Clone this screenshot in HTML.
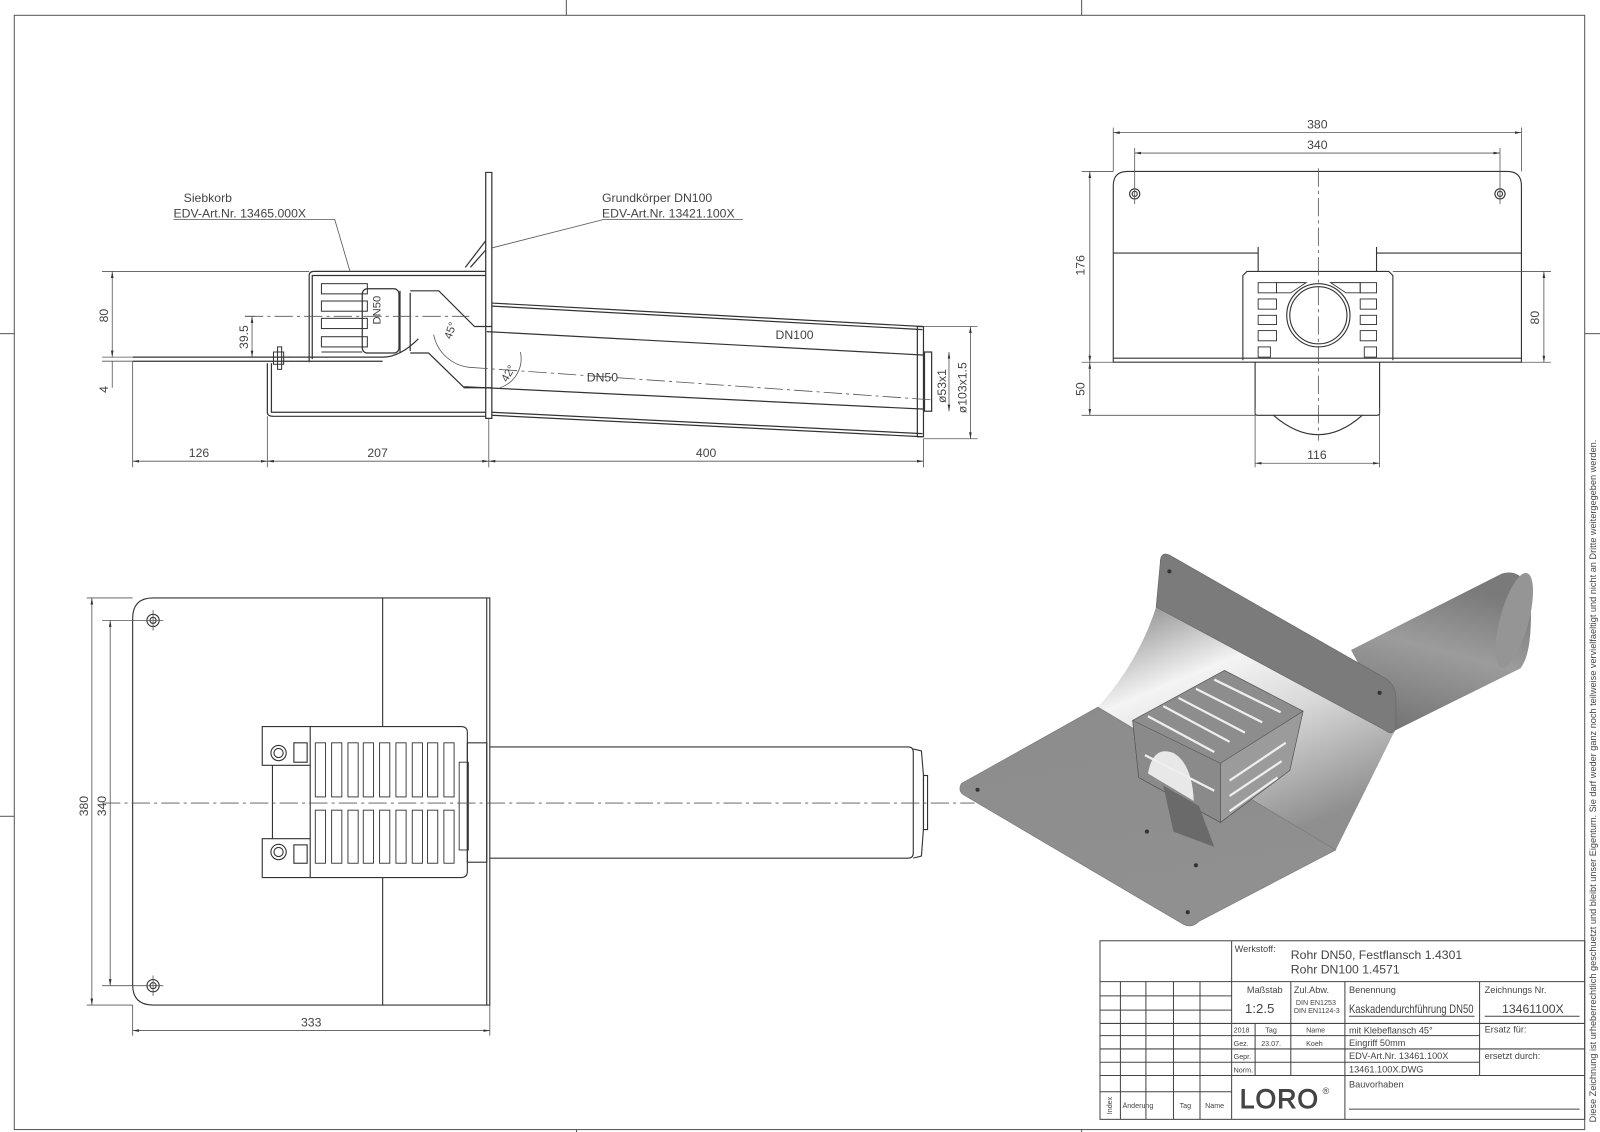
<!DOCTYPE html>
<html><head><meta charset="utf-8"><style>
html,body{margin:0;padding:0;background:#fff;}
svg{display:block;font-family:"Liberation Sans",sans-serif;}
text{fill:#444;}
</style></head><body>
<svg width="1600" height="1132" viewBox="0 0 1568 1109.4" preserveAspectRatio="none" xmlns="http://www.w3.org/2000/svg">
<defs>
<marker id="a" viewBox="0 0 10 10" refX="10" refY="5" markerWidth="8" markerHeight="8" orient="auto-start-reverse"><path d="M0,3 L10,5 L0,7z" fill="#333"/></marker>
<linearGradient id="pg" x1="0" y1="0" x2="0.3" y2="1"><stop offset="0" stop-color="#8c8c8c"/><stop offset="1" stop-color="#909090"/></linearGradient>
<linearGradient id="tg" x1="0" y1="1" x2="0.3" y2="0"><stop offset="0" stop-color="#6e6e6e"/><stop offset="0.6" stop-color="#9c9c9c"/><stop offset="1" stop-color="#7a7a7a"/></linearGradient>
<linearGradient id="bend" x1="0" y1="0" x2="0.5" y2="1"><stop offset="0" stop-color="#808080"/><stop offset="0.35" stop-color="#f4f4f4"/><stop offset="0.6" stop-color="#d8d8d8"/><stop offset="1" stop-color="#8f8f8f"/></linearGradient>
</defs>
<g fill="none" stroke="#555" stroke-width="1">
<rect x="14" y="15" width="1539" height="1092"/>
<line x1="555" y1="0" x2="555" y2="15"/><line x1="1060" y1="0" x2="1060" y2="15"/>
<line x1="565" y1="1107" x2="565" y2="1132"/><line x1="1060" y1="1107" x2="1060" y2="1132"/>
<line x1="0" y1="327" x2="14" y2="327"/><line x1="0" y1="800" x2="14" y2="800"/>
<line x1="1553" y1="327" x2="1568" y2="327"/>
</g>

<!-- SIDE VIEW -->
<g fill="none" stroke="#333" stroke-width="1.2">
<path d="M476,169 L476,410 L482,410 L482,169 Z"/>
<path d="M130,350 L290,350 M130,354 L290,354"/>
<path d="M303,355 L303,270 Q303,266 308,266 L476,266 M306,352 L306,270 L476,270"/>
<path d="M262,356 L262,404 Q262,408 268,408 L476,408 M266,356 L266,404 L476,404"/>
<path d="M290,350 L375,350 Q392,350 410,332 M290,354 L375,354"/>
<path d="M461,262 L476,245 M456,262 L476,236"/>
<rect x="355" y="283" width="36" height="63" rx="5"/>
<line x1="392" y1="285" x2="392" y2="346"/><line x1="402" y1="287" x2="402" y2="344"/>
<path d="M402,285 L430,285 L465,320 L482,320 M402,346 L420,346 L455,380 L482,380"/>
<g stroke-width="1"><rect x="315" y="278" width="45" height="10"/><rect x="315" y="295" width="45" height="10"/><rect x="315" y="312" width="45" height="10"/><rect x="315" y="330" width="45" height="10"/><line x1="315" y1="345" x2="355" y2="345"/></g>
<path d="M482,297 L904,320 M482,300 L904,323 M482,407 L904,428 M482,404 L904,425"/>
<path d="M477,325 L906,348 M455,379 L906,401"/>
<rect x="899" y="320" width="6" height="108"/>
<rect x="906" y="345" width="7" height="58"/>
<path d="M268,345 h10 v12 h-10z M272,340 h4 v22 h-4z" stroke-width="1"/>
</g>
<g fill="none" stroke="#555" stroke-width="0.8" stroke-dasharray="18,4,3,4">
<line x1="240" y1="310" x2="460" y2="310"/><line x1="460" y1="360" x2="915" y2="392"/>
</g>
<g fill="none" stroke="#555" stroke-width="0.8">
<line x1="130" y1="354" x2="130" y2="458"/><line x1="262" y1="408" x2="262" y2="458"/><line x1="479" y1="410" x2="479" y2="458"/><line x1="905" y1="430" x2="905" y2="458"/>
<line x1="130" y1="452" x2="262" y2="452" marker-start="url(#a)" marker-end="url(#a)"/>
<line x1="262" y1="452" x2="479" y2="452" marker-start="url(#a)" marker-end="url(#a)"/>
<line x1="479" y1="452" x2="905" y2="452" marker-start="url(#a)" marker-end="url(#a)"/>
<line x1="100" y1="266" x2="303" y2="266"/><line x1="100" y1="350" x2="130" y2="350"/><line x1="100" y1="354" x2="130" y2="354"/>
<line x1="110" y1="266" x2="110" y2="350" marker-start="url(#a)" marker-end="url(#a)"/>
<line x1="110" y1="354" x2="110" y2="380"/>
<line x1="240" y1="310" x2="250" y2="310"/>
<line x1="247" y1="310" x2="247" y2="350" marker-start="url(#a)" marker-end="url(#a)"/>
<line x1="905" y1="320" x2="958" y2="320"/><line x1="905" y1="430" x2="958" y2="430"/>
<line x1="951" y1="320" x2="951" y2="430" marker-start="url(#a)" marker-end="url(#a)"/>
<line x1="930" y1="345" x2="930" y2="403" marker-start="url(#a)" marker-end="url(#a)"/>
<path d="M343,266 L328,215 L170,215"/>
<path d="M482,243 L592,215 L728,215"/>
<path d="M425,328 A40,40 0 0 0 460,360"/>
<path d="M490,380 A30,30 0 0 0 510,345"/>
</g>
<g font-size="12">
<text x="180" y="198">Siebkorb</text><text x="170" y="213">EDV-Art.Nr. 13465.000X</text>
<text x="590" y="198">Grundkörper DN100</text><text x="590" y="213">EDV-Art.Nr. 13421.100X</text>
<text x="185" y="448">126</text><text x="360" y="448">207</text><text x="682" y="448">400</text>
<text x="760" y="332">DN100</text><text x="575" y="374">DN50</text>
<text transform="translate(106,316) rotate(-90)">80</text>
<text transform="translate(106,385) rotate(-90)">4</text>
<text transform="translate(243,342) rotate(-90)">39.5</text>
<text transform="translate(373,318) rotate(-90)" font-size="11">DN50</text>
<text transform="translate(927,395) rotate(-90)">ø53x1</text>
<text transform="translate(947,405) rotate(-90)">ø103x1.5</text>
<text transform="translate(442,333) rotate(-70)" font-size="11">45°</text>
<text transform="translate(497,375) rotate(-60)" font-size="11">42°</text>
</g>

<!-- FRONT VIEW -->
<g fill="none" stroke="#333" stroke-width="1.1">
<path d="M1091,355 L1091,182 Q1091,168 1105,168 L1477,168 Q1491,168 1491,182 L1491,355 Z"/>
<line x1="1091" y1="248" x2="1233" y2="248"/><line x1="1349" y1="248" x2="1491" y2="248"/>
<line x1="1233" y1="242" x2="1233" y2="266"/><line x1="1349" y1="242" x2="1349" y2="266"/>
<circle cx="1112" cy="190" r="5"/><circle cx="1112" cy="190" r="2.5"/><circle cx="1470" cy="190" r="5"/><circle cx="1470" cy="190" r="2.5"/>
<path d="M1218,353 L1218,270 L1222,266 L1361,266 L1365,270 L1365,353"/>
<line x1="1091" y1="351" x2="1491" y2="351"/>
<path d="M1230,355 L1230,405 Q1230,407 1233,407 L1349,407 Q1352,407 1352,405 L1352,355"/>
<path d="M1248,407 Q1292,445 1335,407"/>
<circle cx="1292" cy="309" r="31"/><circle cx="1292" cy="309" r="28"/>
<g stroke-width="0.9">
<rect x="1233" y="277" width="18" height="10"/><rect x="1233" y="293" width="18" height="10"/><rect x="1233" y="309" width="18" height="9"/><rect x="1233" y="324" width="18" height="10"/>
<rect x="1333" y="277" width="16" height="10"/><rect x="1333" y="293" width="16" height="10"/><rect x="1333" y="309" width="16" height="9"/><rect x="1333" y="324" width="16" height="10"/>
<path d="M1251,277 L1280,277 L1265,287 L1251,287Z"/><path d="M1333,277 L1304,277 L1319,287 L1333,287Z"/>
<rect x="1233" y="340" width="12" height="10"/><rect x="1337" y="340" width="12" height="10"/>
</g>
</g>
<g fill="none" stroke="#555" stroke-width="0.8">
<line x1="1292" y1="165" x2="1292" y2="432" stroke-dasharray="18,4,3,4"/>
<line x1="1091" y1="125" x2="1091" y2="168"/><line x1="1491" y1="125" x2="1491" y2="168"/>
<line x1="1112" y1="145" x2="1112" y2="200"/><line x1="1470" y1="145" x2="1470" y2="200"/>
<line x1="1091" y1="130" x2="1491" y2="130" marker-start="url(#a)" marker-end="url(#a)"/>
<line x1="1112" y1="150" x2="1470" y2="150" marker-start="url(#a)" marker-end="url(#a)"/>
<line x1="1060" y1="168" x2="1091" y2="168"/><line x1="1060" y1="355" x2="1091" y2="355"/><line x1="1060" y1="407" x2="1230" y2="407"/>
<line x1="1068" y1="168" x2="1068" y2="355" marker-start="url(#a)" marker-end="url(#a)"/>
<line x1="1068" y1="355" x2="1068" y2="407" marker-start="url(#a)" marker-end="url(#a)"/>
<line x1="1365" y1="266" x2="1520" y2="266"/><line x1="1491" y1="355" x2="1520" y2="355"/>
<line x1="1513" y1="266" x2="1513" y2="355" marker-start="url(#a)" marker-end="url(#a)"/>
<line x1="1230" y1="400" x2="1230" y2="458"/><line x1="1352" y1="400" x2="1352" y2="458"/>
<line x1="1230" y1="454" x2="1352" y2="454" marker-start="url(#a)" marker-end="url(#a)"/>
</g>
<g font-size="12">
<text x="1281" y="126">380</text><text x="1281" y="146">340</text>
<text transform="translate(1063,270) rotate(-90)">176</text>
<text transform="translate(1063,388) rotate(-90)">50</text>
<text transform="translate(1508,318) rotate(-90)">80</text>
<text x="1281" y="450">116</text>
</g>

<!-- PLAN VIEW -->
<g fill="none" stroke="#333" stroke-width="1.1">
<path d="M480,586 L150,586 Q130,586 130,606 L130,965 Q130,985 150,985 L480,985 Z"/>
<line x1="477" y1="586" x2="477" y2="985"/>
<line x1="375" y1="586" x2="375" y2="712"/><line x1="375" y1="860" x2="375" y2="985"/>
<circle cx="150" cy="608" r="6"/><circle cx="150" cy="608" r="3"/>
<circle cx="150" cy="966" r="6"/><circle cx="150" cy="966" r="3"/>
<path d="M480,732 L890,732 Q895,732 895,737 L895,836 Q895,841 890,841 L480,841"/>
<path d="M895,734 L903,736 L905,760 L905,812 L903,839 L895,841"/>
<rect x="905" y="760" width="4" height="53"/>
<path d="M304,712 L257,712 L257,750 L304,750 M304,822 L257,822 L257,860 L304,860"/>
<line x1="267" y1="750" x2="267" y2="822"/>
<path d="M304,712 L452,712 Q458,712 458,718 L458,854 Q458,860 452,860 L304,860 Z"/>
<rect x="458" y="728" width="19" height="117"/>
<circle cx="273" cy="738" r="7.5"/><circle cx="273" cy="738" r="4.5"/>
<circle cx="273" cy="835" r="7.5"/><circle cx="273" cy="835" r="4.5"/>
<rect x="288" y="728" width="13" height="19"/><rect x="288" y="828" width="13" height="18"/>
<g stroke-width="0.9">
<rect x="309" y="728" width="10" height="53"/><rect x="325" y="728" width="10" height="53"/><rect x="341" y="728" width="10" height="53"/><rect x="356" y="728" width="10" height="53"/><rect x="372" y="728" width="10" height="53"/><rect x="388" y="728" width="10" height="53"/><rect x="404" y="728" width="10" height="53"/><rect x="419" y="728" width="10" height="53"/><rect x="435" y="728" width="10" height="53"/>
<rect x="309" y="794" width="10" height="52"/><rect x="325" y="794" width="10" height="52"/><rect x="341" y="794" width="10" height="52"/><rect x="356" y="794" width="10" height="52"/><rect x="372" y="794" width="10" height="52"/><rect x="388" y="794" width="10" height="52"/><rect x="404" y="794" width="10" height="52"/><rect x="419" y="794" width="10" height="52"/><rect x="435" y="794" width="10" height="52"/>
<rect x="450" y="747" width="9" height="86"/>
</g>
</g>
<g fill="none" stroke="#555" stroke-width="0.8">
<line x1="100" y1="787" x2="955" y2="787" stroke-dasharray="18,4,3,4"/>
<line x1="85" y1="586" x2="130" y2="586"/><line x1="85" y1="985" x2="130" y2="985"/>
<line x1="100" y1="608" x2="160" y2="608"/><line x1="100" y1="966" x2="160" y2="966"/>
<line x1="150" y1="598" x2="150" y2="618"/><line x1="150" y1="956" x2="150" y2="976"/>
<line x1="90" y1="586" x2="90" y2="985" marker-start="url(#a)" marker-end="url(#a)"/>
<line x1="108" y1="608" x2="108" y2="966" marker-start="url(#a)" marker-end="url(#a)"/>
<line x1="130" y1="985" x2="130" y2="1015"/><line x1="480" y1="985" x2="480" y2="1015"/>
<line x1="130" y1="1010" x2="480" y2="1010" marker-start="url(#a)" marker-end="url(#a)"/>
</g>
<g font-size="12">
<text transform="translate(86,800) rotate(-90)">380</text>
<text transform="translate(104,800) rotate(-90)">340</text>
<text x="295" y="1006">333</text>
</g>

<!-- 3D -->
<g>
<path d="M1324,637 L1472,562 Q1496,556 1500,590 Q1502,640 1490,655 L1367,716 Z" fill="url(#tg)"/>
<ellipse cx="1484" cy="608" rx="14" ry="48" transform="rotate(15 1484 608)" fill="#959595"/>
<path d="M1076,693 Q1115,650 1133,595 L1367,716 L1309,833 Z" fill="url(#bend)"/>
<path d="M942,768 Q938,776 946,780 L1160,906 Q1168,910 1175,903 L1309,833 L1076,693 Z" fill="url(#pg)" stroke="#777" stroke-width="0.6"/>
<path d="M1137,552 Q1137,540 1146,544 L1358,665 Q1368,672 1368,684 L1368,712 Q1366,722 1358,716 L1133,595 Z" fill="#7b7b7b" stroke="#666" stroke-width="0.6"/>
<!-- cage -->
<path d="M1110,706 L1200,657 L1277,697 L1264,755 L1196,806 L1116,762 Z" fill="#8d8d8d" stroke="#555" stroke-width="0.7"/>
<path d="M1196,748 L1277,697 L1264,755 L1196,806 Z" fill="#9b9b9b" stroke="#555" stroke-width="0.6"/>
<path d="M1110,706 L1196,748 L1196,806 L1116,762 Z" fill="#8a8a8a" stroke="#555" stroke-width="0.6"/>
<path d="M1125,758 Q1130,730 1150,738 Q1168,748 1170,785 Z" fill="#e8e8e8"/>
<path d="M1140,770 L1175,790 L1190,830 L1150,815 Z" fill="#6a6a6a"/>
<g stroke="#eee" stroke-width="2.2">
<line x1="1125" y1="702" x2="1190" y2="737"/><line x1="1140" y1="692" x2="1205" y2="727"/><line x1="1155" y1="684" x2="1220" y2="718"/><line x1="1172" y1="675" x2="1237" y2="708"/><line x1="1190" y1="666" x2="1255" y2="698"/>
<line x1="1205" y1="765" x2="1260" y2="728"/><line x1="1205" y1="780" x2="1256" y2="746"/><line x1="1205" y1="795" x2="1252" y2="762"/>
<line x1="1122" y1="740" x2="1190" y2="775"/>
</g>
<circle cx="958" cy="774" r="2" fill="#333"/><circle cx="1164" cy="894" r="2" fill="#333"/><circle cx="1146" cy="560" r="2" fill="#333"/><circle cx="1352" cy="679" r="2" fill="#333"/>
<circle cx="1124" cy="815" r="2" fill="#333"/><circle cx="1172" cy="848" r="2" fill="#333"/>
</g>

<!-- TITLE BLOCK -->
<g fill="none" stroke="#444" stroke-width="1">
<rect x="1078" y="922" width="475" height="175"/>
<line x1="1078" y1="962" x2="1553" y2="962"/>
<line x1="1207" y1="922" x2="1207" y2="1097"/>
<line x1="1098" y1="962" x2="1098" y2="1097"/><line x1="1123" y1="962" x2="1123" y2="1097"/><line x1="1150" y1="962" x2="1150" y2="1097"/><line x1="1176" y1="962" x2="1176" y2="1097"/>
<line x1="1078" y1="976" x2="1207" y2="976"/><line x1="1078" y1="990" x2="1207" y2="990"/><line x1="1078" y1="1003" x2="1553" y2="1003"/>
<line x1="1078" y1="1015" x2="1450" y2="1015"/><line x1="1078" y1="1028" x2="1450" y2="1028"/><line x1="1078" y1="1041" x2="1450" y2="1041"/><line x1="1078" y1="1054" x2="1553" y2="1054"/>
<line x1="1078" y1="1070" x2="1207" y2="1070"/>
<line x1="1265" y1="962" x2="1265" y2="1054"/><line x1="1318" y1="962" x2="1318" y2="1097"/><line x1="1450" y1="962" x2="1450" y2="1054"/>
<line x1="1230" y1="1003" x2="1230" y2="1054"/>
<line x1="1450" y1="1028" x2="1553" y2="1028"/>
<line x1="1322" y1="996" x2="1445" y2="996"/><line x1="1455" y1="996" x2="1548" y2="996"/>
<line x1="1322" y1="1087" x2="1548" y2="1087"/>
</g>
<g font-size="9">
<text x="1210" y="933">Werkstoff:</text>
<text x="1222" y="973">Maßstab</text><text x="1268" y="973">Zul.Abw.</text>
<text x="1270" y="985" font-size="7">DIN EN1253</text><text x="1268" y="993" font-size="7">DIN EN1124-3</text>
<text x="1322" y="973">Benennung</text><text x="1455" y="973">Zeichnungs Nr.</text>
<text x="1209" y="1012" font-size="7">2018</text><text x="1240" y="1012" font-size="7">Tag</text><text x="1280" y="1012" font-size="7">Name</text>
<text x="1209" y="1025" font-size="7">Gez.</text><text x="1236" y="1025" font-size="7">23.07.</text><text x="1280" y="1025" font-size="7">Koeh</text>
<text x="1209" y="1038" font-size="7">Gepr.</text><text x="1209" y="1051" font-size="7">Norm.</text>
<text x="1322" y="1013">mit Klebeflansch 45°</text><text x="1322" y="1025">Eingriff 50mm</text><text x="1322" y="1038">EDV-Art.Nr. 13461.100X</text><text x="1322" y="1051">13461.100X.DWG</text>
<text x="1455" y="1012">Ersatz für:</text><text x="1455" y="1038">ersetzt durch:</text>
<text x="1322" y="1066">Bauvorhaben</text>
<text x="1100" y="1086" font-size="7">Änderung</text><text x="1156" y="1086" font-size="7">Tag</text><text x="1181" y="1086" font-size="7">Name</text>
<text transform="translate(1090,1092) rotate(-90)" font-size="7">Index</text>
</g>
<g font-size="12">
<text x="1265" y="940">Rohr DN50, Festflansch 1.4301</text>
<text x="1265" y="954">Rohr DN100 1.4571</text>
<text x="1220" y="993" font-size="13">1:2.5</text>
<text x="1322" y="993" textLength="122" lengthAdjust="spacingAndGlyphs">Kaskadendurchführung DN50</text>
<text x="1472" y="993">13461100X</text>
</g>
<text x="1215" y="1086" font-size="26" fill="none" stroke="#444" stroke-width="0.9" letter-spacing="1">LORO</text>
<text x="1296" y="1072" font-size="9">®</text>
<text transform="translate(1564,1100) rotate(-90)" font-size="9">Diese Zeichnung ist urheberrechtlich geschuetzt und bleibt unser Eigentum. Sie darf weder ganz noch teilweise vervielfaeltigt und nicht an Dritte weitergegeben werden.</text>
</svg>
</body></html>
